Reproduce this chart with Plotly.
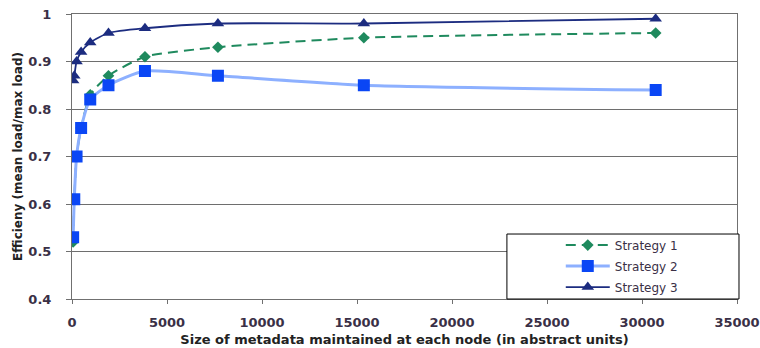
import plotly.graph_objects as go

x_vals = [60, 120, 240, 480, 960, 1920, 3840, 7680, 15360, 30720]
strategy1 = [0.52, 0.61, 0.70, 0.76, 0.83, 0.87, 0.91, 0.93, 0.95, 0.96]
strategy2 = [0.53, 0.61, 0.70, 0.76, 0.82, 0.85, 0.88, 0.87, 0.85, 0.84]
strategy3 = [0.86, 0.87, 0.90, 0.92, 0.94, 0.96, 0.97, 0.98, 0.98, 0.99]

FONT = "DejaVu Sans, Arial, sans-serif"

fig = go.Figure()
fig.add_trace(go.Scatter(
    x=x_vals, y=strategy1, name="Strategy 1", mode="lines+markers", legendgroup="s1",
    line=dict(color="#1F8A5E", width=2, dash="10px,6px", shape="spline", smoothing=0.6),
    marker=dict(symbol="diamond", size=9, color="#1F8A5E"),
))
fig.add_trace(go.Scatter(
    x=x_vals, y=strategy2, name="Strategy 2", mode="lines+markers", legendgroup="s2",
    line=dict(color="#8DB0FF", width=3, shape="spline", smoothing=0.6),
    marker=dict(symbol="square", size=12, color="#0A46F5"),
))
fig.add_trace(go.Scatter(
    x=x_vals, y=strategy3, name="Strategy 3", mode="lines+markers", legendgroup="s3",
    line=dict(color="#1C2C80", width=1.8, shape="spline", smoothing=0.6),
    marker=dict(symbol="triangle-up", size=11, color="#1C2C80"),
))

tick_font = dict(family=FONT, size=13, color="#3a3046", weight="bold")

# pixel layout of plot area: x 72..737, y 14..299
fig.update_layout(
    width=760, height=348,
    margin=dict(l=72, r=23, t=14, b=49, autoexpand=False),
    paper_bgcolor="white", plot_bgcolor="white",
    showlegend=True,
    legend=dict(
        x=0.735, y=0.24, xanchor="left", yanchor="top",
        bgcolor="rgba(0,0,0,0)", borderwidth=0,
        font=dict(family=FONT, size=12, color="#3a3046"),
        itemwidth=44, tracegroupgap=2,
    ),
    shapes=[dict(
        type="rect", xref="paper", yref="paper",
        x0=0.654, x1=1.003, y0=0.0, y1=0.228,
        line=dict(color="black", width=1), fillcolor="white", layer="above",
    )],
    xaxis=dict(
        range=[0, 35000], dtick=5000, tick0=0, tickformat="d",
        showgrid=False, zeroline=False, automargin=False,
        showline=True, linecolor="#707070", linewidth=1, mirror=True,
        ticks="outside", ticklen=4, tickcolor="#707070",
        tickfont=tick_font, ticklabelstandoff=7,
        title=dict(text="Size of metadata maintained at each node (in abstract units)",
                   font=dict(family=FONT, size=13, color="#222", weight="bold"),
                   standoff=6),
    ),
    yaxis=dict(
        range=[0.4, 1.0], dtick=0.1, tick0=0.4, tickformat=".1~f",
        showgrid=True, gridcolor="#6e6e6e", gridwidth=1,
        zeroline=False, automargin=False,
        showline=True, linecolor="#707070", linewidth=1, mirror=True,
        ticks="outside", ticklen=5, tickcolor="#707070",
        tickfont=tick_font, ticklabelstandoff=12,
        title=dict(text="Efficieny (mean load/max load)",
                   font=dict(family=FONT, size=12, color="#222", weight="bold"),
                   standoff=3),
    ),
)

fig.write_html("out.html", config={"displayModeBar": False},
               post_script="document.body.style.margin='0';document.body.style.overflow='hidden';")
